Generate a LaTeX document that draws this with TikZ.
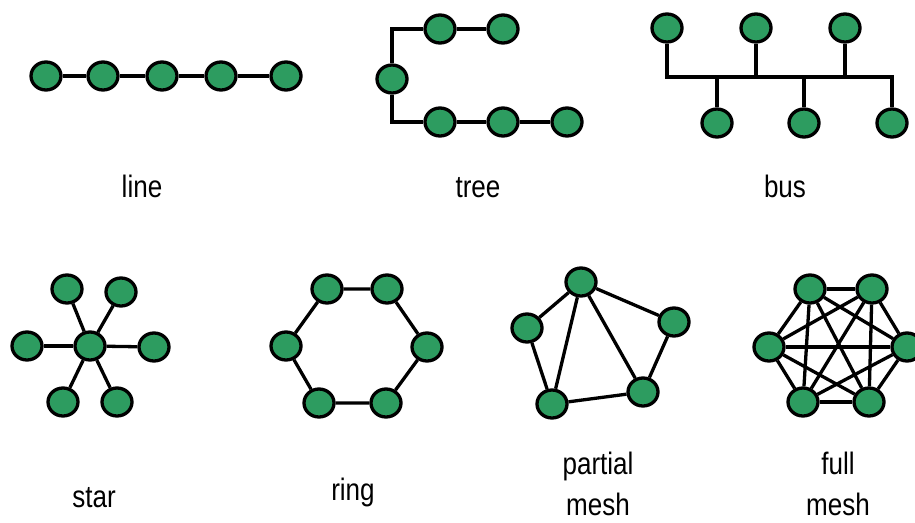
\documentclass[tikz,border=0pt]{standalone}
\usepackage{fontspec}
\setmainfont{Liberation Sans}
\usetikzlibrary{shapes.geometric}
\definecolor{nodegreen}{RGB}{45,156,96}
\tikzset{
  pc/.style={ellipse,draw=black,fill=nodegreen,line width=3.3pt,minimum width=30pt,minimum height=28pt,inner sep=0pt},
  wire/.style={line width=3.3pt,line join=miter},
  lbl/.style={font=\fontsize{31}{42}\selectfont,xscale=0.84,anchor=base,align=center,inner sep=0pt}
}
\begin{document}
\begin{tikzpicture}[x=1pt,y=-1pt]
\useasboundingbox (0,0) rectangle (915,522);
% line
\node[pc] (l1) at (46,76) {};
\node[pc] (l2) at (103,76) {};
\node[pc] (l3) at (162,76) {};
\node[pc] (l4) at (221,76) {};
\node[pc] (l5) at (286,76) {};
\draw[wire] (l1)--(l2) (l2)--(l3) (l3)--(l4) (l4)--(l5);
\node[lbl] (tl) at (142,197) {line};
% tree
\node[pc] (t1) at (440,29) {};
\node[pc] (t2) at (503,29) {};
\node[pc] (t3) at (392,79) {};
\node[pc] (t4) at (440,122) {};
\node[pc] (t5) at (503,122) {};
\node[pc] (t6) at (567,122) {};
\draw[wire] (t3) |- (t1);
\draw[wire] (t3) |- (t4);
\draw[wire] (t1)--(t2) (t4)--(t5) (t5)--(t6);
\node[lbl] (tt) at (478,197) {tree};
% bus
\node[pc] (b1) at (667,28) {};
\node[pc] (b2) at (756,28) {};
\node[pc] (b3) at (845,28) {};
\node[pc] (b4) at (717,123) {};
\node[pc] (b5) at (804,123) {};
\node[pc] (b6) at (892,123) {};
\coordinate (bl) at (667,77);
\coordinate (br) at (892,77);
\draw[wire] (b1) |- (br) -- (b6);
\draw[wire] (b2) -- (b2 |- bl);
\draw[wire] (b3) -- (b3 |- bl);
\draw[wire] (b4) -- (b4 |- bl);
\draw[wire] (b5) -- (b5 |- bl);
\node[lbl] (tb) at (785,197) {bus};
% star
\node[pc] (s0) at (90,346) {};
\node[pc] (s1) at (67,289) {};
\node[pc] (s2) at (121,292) {};
\node[pc] (s3) at (27,346) {};
\node[pc] (s4) at (154,347) {};
\node[pc] (s5) at (63,402) {};
\node[pc] (s6) at (117,402) {};
\foreach \i in {1,...,6} \draw[wire] (s0)--(s\i);
\node[lbl] (ts) at (94,507) {star};
% ring
\node[pc] (r1) at (327,289) {};
\node[pc] (r2) at (387,289) {};
\node[pc] (r3) at (427,347) {};
\node[pc] (r4) at (386,403) {};
\node[pc] (r5) at (319,403) {};
\node[pc] (r6) at (286,346) {};
\draw[wire] (r1)--(r2) (r2)--(r3) (r3)--(r4) (r4)--(r5) (r5)--(r6) (r6)--(r1);
\node[lbl] (tr) at (353,500) {ring};
% partial mesh
\node[pc] (p1) at (581,282) {};
\node[pc] (p2) at (674,322) {};
\node[pc] (p3) at (643,392) {};
\node[pc] (p4) at (552,404) {};
\node[pc] (p5) at (527,328) {};
\draw[wire] (p1)--(p2) (p1)--(p3) (p1)--(p4) (p1)--(p5) (p2)--(p3) (p3)--(p4) (p4)--(p5);
\node[lbl,font=\fontsize{31}{41}\selectfont] (tp) at (598,515) {partial\\mesh};
% full mesh
\node[pc] (f1) at (810,289) {};
\node[pc] (f2) at (872,289) {};
\node[pc] (f3) at (907,347) {};
\node[pc] (f4) at (869,402) {};
\node[pc] (f5) at (803,402) {};
\node[pc] (f6) at (769,347) {};
\foreach \i/\j in {1/2,1/3,1/4,1/5,1/6,2/3,2/4,2/5,2/6,3/4,3/5,3/6,4/5,4/6,5/6}
  \draw[wire] (f\i)--(f\j);
\node[lbl,font=\fontsize{31}{41}\selectfont] (tf) at (838,515) {full\\mesh};
\end{tikzpicture}
\end{document}
